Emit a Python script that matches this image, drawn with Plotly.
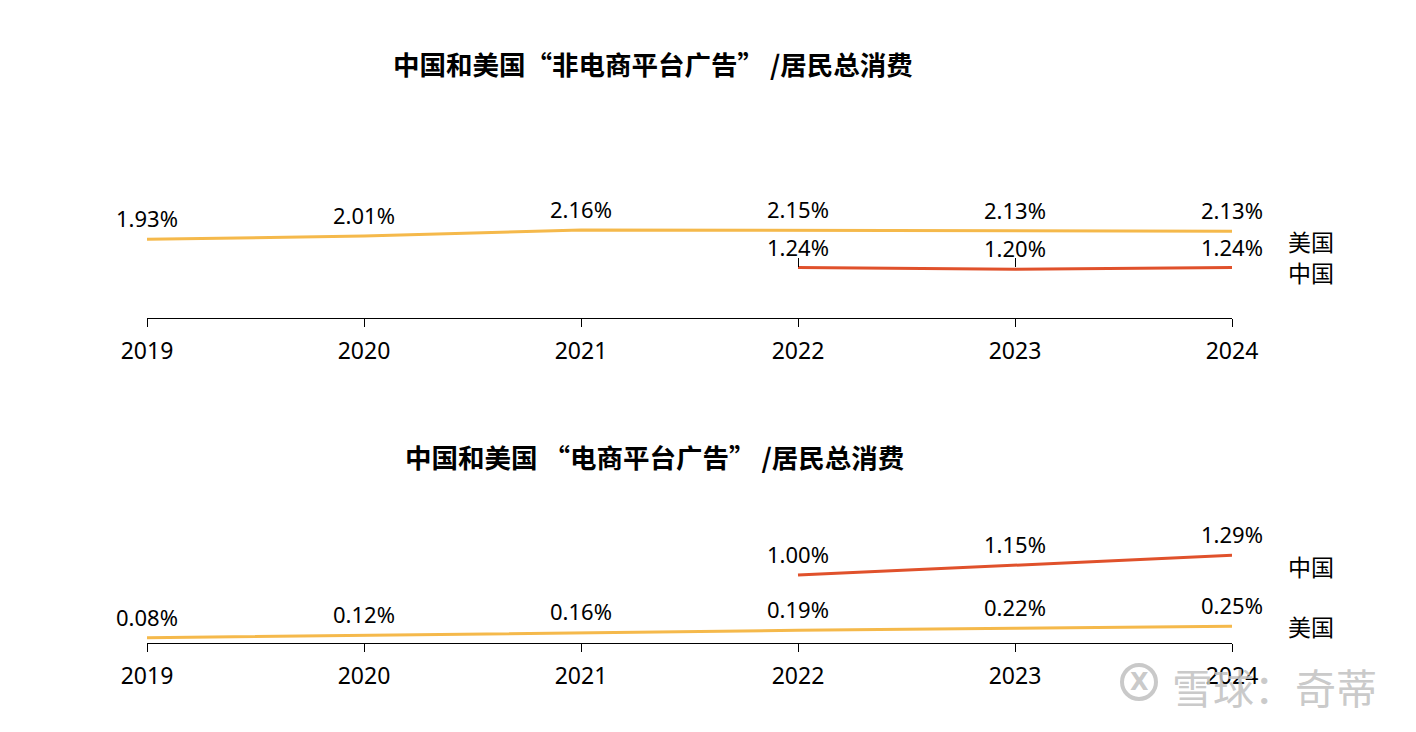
import plotly.graph_objects as go

W, H = 1400, 716   # page body has an 8px margin, so the figure fills the 1416x732 window
OFF = 8

years = [2019, 2020, 2021, 2022, 2023, 2024]
years_cn = [2022, 2023, 2024]

# Top chart: non-e-commerce platform advertising / household consumption (%)
top_us = [1.93, 2.01, 2.16, 2.15, 2.13, 2.13]
top_cn = [1.24, 1.20, 1.24]
# Bottom chart: e-commerce platform advertising / household consumption (%)
bot_us = [0.08, 0.12, 0.16, 0.19, 0.22, 0.25]
bot_cn = [1.00, 1.15, 1.29]

title_top = "中国和美国“非电商平台广告” /居民总消费"
title_bot = "中国和美国 “电商平台广告” /居民总消费"
name_us = "美国"
name_cn = "中国"
watermark = "雪球：奇蒂"

C_US = "#F5B94B"
C_CN = "#E0512B"
C_WM = "rgba(195,195,195,0.9)"
FONT = "Noto Sans, Noto Sans CJK SC, sans-serif"


def px_x(p):
    return (p - OFF) / W


def px_y(p):
    return 1 - (p - OFF) / H


def dom(top_px, bottom_px):
    return [px_y(bottom_px), px_y(top_px)]


fig = go.Figure()

panels = [
    ("x", "x3", "y", top_us, top_cn),
    ("x2", "x2", "y2", bot_us, bot_cn),
]
for xa, xa_cn, ya, us, cn in panels:
    fig.add_trace(go.Scatter(x=years, y=us, mode="lines", line=dict(color=C_US, width=3),
                             xaxis=xa, yaxis=ya, cliponaxis=False, hoverinfo="skip"))
    fig.add_trace(go.Scatter(x=years_cn, y=cn, mode="lines", line=dict(color=C_CN, width=3),
                             xaxis=xa_cn, yaxis=ya, cliponaxis=False, hoverinfo="skip"))

annotations = []

# watermark (drawn first so chart text sits on top)
annotations.append(dict(x=px_x(1170), y=px_y(686), xref="paper", yref="paper", text=watermark,
                        showarrow=False, xanchor="left", yanchor="middle",
                        font=dict(size=41, color=C_WM, family="Noto Sans CJK SC")))
annotations.append(dict(x=px_x(1139), y=px_y(682), xref="paper", yref="paper", text="<b>X</b>",
                        showarrow=False, xanchor="center", yanchor="middle",
                        font=dict(size=24, color=C_WM, family="DejaVu Sans")))

for xa, xa_cn, ya, us, cn in panels:
    for xs, vals in ((years, us), (years_cn, cn)):
        for xv, v in zip(xs, vals):
            annotations.append(dict(x=xv, y=v, xref=xa, yref=ya, text=f"{v:.2f}%",
                                    showarrow=False, yshift=21, yanchor="middle",
                                    font=dict(size=22, color="black", family=FONT)))

# titles
annotations.append(dict(x=px_x(653), y=px_y(63), xref="paper", yref="paper", text=f"<b>{title_top}</b>",
                        showarrow=False, xanchor="center", yanchor="middle",
                        font=dict(size=26.5, color="black", family="Noto Sans CJK SC")))
annotations.append(dict(x=px_x(654), y=px_y(456), xref="paper", yref="paper", text=f"<b>{title_bot}</b>",
                        showarrow=False, xanchor="center", yanchor="middle",
                        font=dict(size=26.5, color="black", family="Noto Sans CJK SC")))

# series labels
for txt, ypx in ((name_us, 241), (name_cn, 272), (name_cn, 566), (name_us, 626)):
    annotations.append(dict(x=px_x(1286), y=px_y(ypx), xref="paper", yref="paper", text=txt,
                            showarrow=False, xanchor="left", yanchor="middle",
                            font=dict(size=23, color="black", family="Noto Sans CJK SC")))

shapes = [dict(type="circle", xref="paper", yref="paper", layer="below",
               x0=px_x(1122), x1=px_x(1156), y0=px_y(699), y1=px_y(665),
               line=dict(color=C_WM, width=4))]

xcommon = dict(range=[2019, 2024], tickvals=years, ticktext=[str(y) for y in years],
               showline=True, linecolor="black", linewidth=1, ticks="outside", ticklen=8,
               tickcolor="black", tickwidth=1, showgrid=False, zeroline=False,
               tickfont=dict(size=23, color="black", family=FONT), ticklabelstandoff=4,
               automargin=False, fixedrange=True, domain=[px_x(147), px_x(1232)])
ycommon = dict(visible=False, showgrid=False, zeroline=False, fixedrange=True)

fig.update_layout(
    width=W, height=H,
    margin=dict(l=0, r=0, t=0, b=0, autoexpand=False),
    paper_bgcolor="white", plot_bgcolor="white",
    showlegend=False,
    xaxis=dict(anchor="y", **xcommon),
    yaxis=dict(domain=dom(100, 318.3), range=[0, 218.3 / 40.9], anchor="x", **ycommon),
    xaxis2=dict(anchor="y2", **xcommon),
    yaxis2=dict(domain=dom(500, 643.3), range=[0, 143.3 / 68.2], anchor="x2", **ycommon),
    xaxis3=dict(overlaying="x", anchor="free", position=px_y(267.3), range=[2019, 2024],
                domain=[px_x(147), px_x(1232)], tickvals=years_cn, ticks="inside", ticklen=9,
                tickcolor="black", tickwidth=1, showticklabels=False, showline=False,
                showgrid=False, zeroline=False, automargin=False, fixedrange=True),
    annotations=annotations,
    shapes=shapes,
)

fig.write_html("out.html")
